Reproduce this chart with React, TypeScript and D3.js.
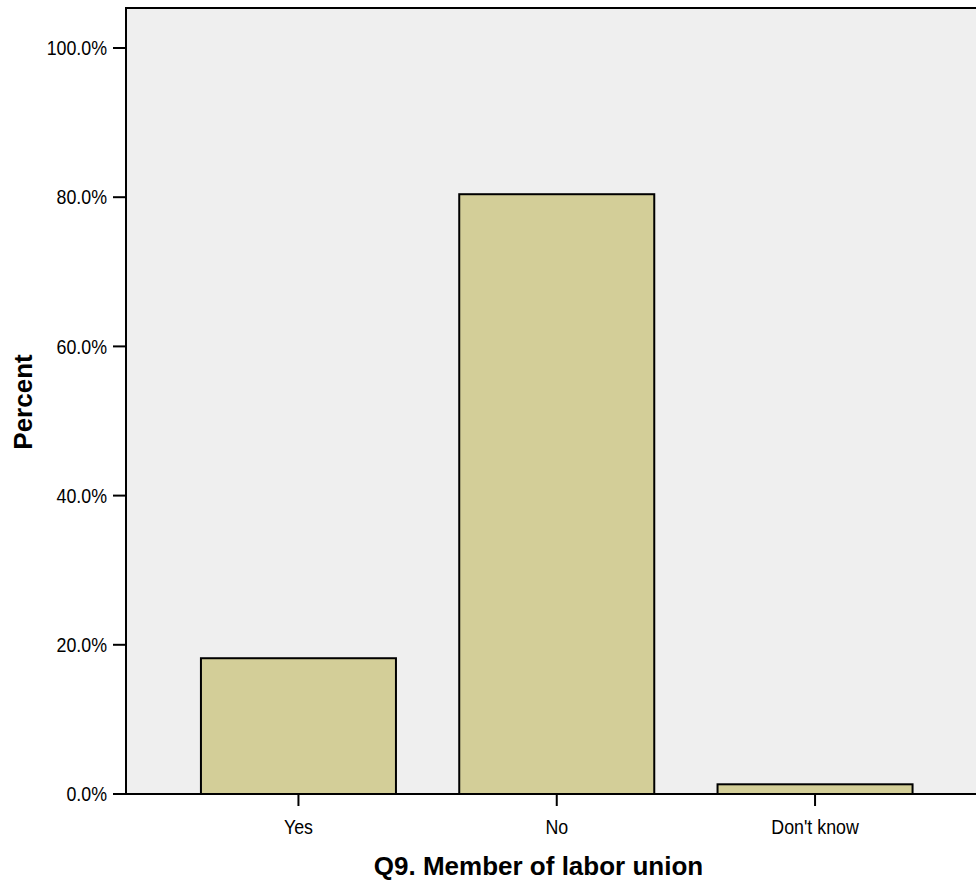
import React from "react";
import * as d3 from "d3";

const categories: string[] = ["Yes", "No", "Don't know"];
const percents: number[] = [18.2, 80.4, 1.3];
const yTicks: number[] = [0, 20, 40, 60, 80, 100];
const xTitle = "Q9. Member of labor union";
const yTitle = "Percent";

const W = 976;
const H = 882;

export default function App() {
  const frameLeft = 126;
  const frameTop = 8;
  const baseY = 794;
  const y = d3.scaleLinear().domain([0, 100]).range([baseY, 48]);
  const x = d3
    .scaleBand<string>()
    .domain(categories)
    .range([169.3, 944.2])
    .paddingInner(0.245)
    .paddingOuter(0.1225);
  const fmt = (v: number) => d3.format(".1f")(v) + "%";
  const tickFont = "'Liberation Sans', Arial, sans-serif";
  const titleFont = "'Liberation Sans', Arial, sans-serif";
  const sx = 0.89;

  return (
    <svg
      width={W}
      height={H}
      style={{ position: "absolute", left: 0, top: 0, display: "block" }}
    >
      <rect x={0} y={0} width={W} height={H} fill="#ffffff" />
      <rect
        x={frameLeft}
        y={frameTop}
        width={W - frameLeft + 10}
        height={baseY - frameTop}
        fill="#efefef"
      />
      {categories.map((c, i) => (
        <rect
          key={c}
          x={x(c)!}
          y={y(percents[i])}
          width={x.bandwidth()}
          height={baseY - y(percents[i])}
          fill="#d3ce98"
          stroke="#000"
          strokeWidth={2}
        />
      ))}
      <line x1={frameLeft} x2={W + 10} y1={frameTop} y2={frameTop} stroke="#000" strokeWidth={2} />
      <line x1={frameLeft} x2={frameLeft} y1={frameTop - 1} y2={baseY} stroke="#000" strokeWidth={2} />
      <line x1={113} x2={W + 10} y1={baseY} y2={baseY} stroke="#000" strokeWidth={2} />
      {yTicks.map((t) => (
        <g key={t}>
          <line x1={113} x2={frameLeft} y1={y(t)} y2={y(t)} stroke="#000" strokeWidth={2} />
          <g transform={`translate(107,${y(t)}) scale(${sx},1)`}>
            <text
              x={0}
              y={0}
              dy="0.36em"
              textAnchor="end"
              fontFamily={tickFont}
              fontSize={20}
              fill="#000"
            >
              {fmt(t)}
            </text>
          </g>
        </g>
      ))}
      {categories.map((c) => {
        const cx = x(c)! + x.bandwidth() / 2;
        return (
          <g key={c}>
            <line x1={cx} x2={cx} y1={baseY} y2={806} stroke="#000" strokeWidth={2} />
            <g transform={`translate(${cx},834) scale(${sx},1)`}>
              <text
                x={0}
                y={0}
                textAnchor="middle"
                fontFamily={tickFont}
                fontSize={20}
                fill="#000"
              >
                {c}
              </text>
            </g>
          </g>
        );
      })}
      <text
        x={538.5}
        y={875}
        textAnchor="middle"
        fontFamily={titleFont}
        fontWeight="bold"
        fontSize={26}
        fill="#000"
      >
        {xTitle}
      </text>
      <text
        transform="translate(32,402) rotate(-90)"
        textAnchor="middle"
        fontFamily={titleFont}
        fontWeight="bold"
        fontSize={26}
        fill="#000"
      >
        {yTitle}
      </text>
    </svg>
  );
}
